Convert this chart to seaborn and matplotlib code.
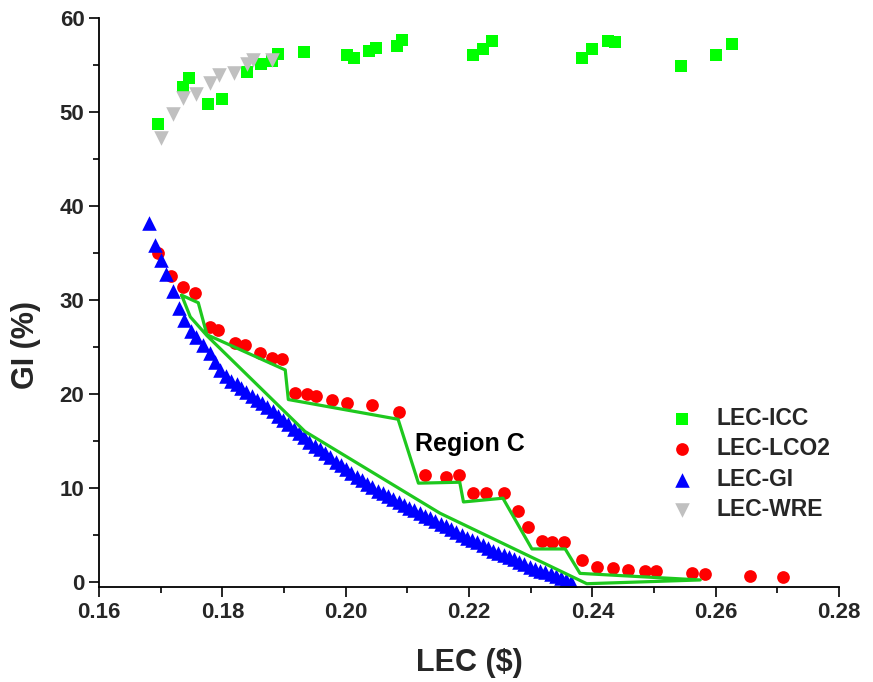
import matplotlib
matplotlib.use("Agg")
import matplotlib.pyplot as plt
import seaborn as sns
from matplotlib.ticker import MultipleLocator, FormatStrFormatter

# LEC-ICC
icc_lec = [0.1696, 0.1736, 0.1746, 0.1777, 0.1799, 0.1840, 0.1862, 0.1880, 0.1891,
           0.1933, 0.2002, 0.2014, 0.2038, 0.2049, 0.2083, 0.2092, 0.2206, 0.2222,
           0.2238, 0.2383, 0.2400, 0.2426, 0.2436, 0.2544, 0.2600, 0.2627]
icc_gi = [48.7, 52.7, 53.6, 50.9, 51.4, 54.3, 55.1, 55.4, 56.2,
          56.4, 56.1, 55.7, 56.5, 56.8, 57.0, 57.7, 56.1, 56.7,
          57.6, 55.7, 56.7, 57.6, 57.4, 54.9, 56.1, 57.2]

# LEC-LCO2
lco2_lec = [0.1695, 0.1716, 0.1737, 0.1756, 0.1780, 0.1793, 0.1821, 0.1837, 0.1861,
            0.1880, 0.1896, 0.1918, 0.1937, 0.1952, 0.1978, 0.2002, 0.2043, 0.2086,
            0.2129, 0.2163, 0.2183, 0.2206, 0.2228, 0.2256, 0.2280, 0.2295, 0.2318,
            0.2334, 0.2354, 0.2384, 0.2407, 0.2433, 0.2458, 0.2485, 0.2503, 0.2561,
            0.2583, 0.2656, 0.2709]
lco2_gi = [35.0, 32.5, 31.4, 30.7, 27.1, 26.8, 25.4, 25.2, 24.4,
           23.8, 23.7, 20.1, 20.0, 19.8, 19.4, 19.0, 18.8, 18.05,
           11.4, 11.2, 11.4, 9.4, 9.4, 9.5, 7.5, 5.8, 4.3,
           4.2, 4.2, 2.3, 1.6, 1.5, 1.3, 1.2, 1.1, 0.9,
           0.85, 0.64, 0.53]

# LEC-GI
gi_lec = [0.1681, 0.1690, 0.1700, 0.1708, 0.1720, 0.1730, 0.1738, 0.1749, 0.1758, 0.1768,
          0.1780, 0.1788, 0.1797, 0.1806, 0.1814, 0.1823, 0.1831, 0.1839, 0.1848, 0.1857,
          0.1865, 0.1873, 0.1882, 0.1891, 0.1899, 0.1907, 0.1916, 0.1925, 0.1933, 0.1941,
          0.1950, 0.1959, 0.1967, 0.1975, 0.1984, 0.1993, 0.2001, 0.2009, 0.2018, 0.2027,
          0.2035, 0.2043, 0.2052, 0.2061, 0.2069, 0.2077, 0.2086, 0.2095, 0.2103, 0.2111,
          0.2120, 0.2129, 0.2137, 0.2145, 0.2154, 0.2163, 0.2171, 0.2179, 0.2188, 0.2197,
          0.2205, 0.2213, 0.2222, 0.2231, 0.2239, 0.2247, 0.2256, 0.2265, 0.2273, 0.2281,
          0.2290, 0.2299, 0.2307, 0.2315, 0.2324, 0.2333, 0.2341, 0.2349, 0.2358, 0.2366]
gi_gi = [38.2, 35.8, 34.2, 32.8, 30.9, 29.1, 27.9, 26.7, 26.1, 25.2,
         24.3, 23.4, 22.5, 21.9, 21.4, 21.0, 20.6, 20.2, 19.8, 19.4,
         19.0, 18.6, 18.2, 17.7, 17.2, 16.8, 16.3, 15.8, 15.4, 14.9,
         14.5, 14.1, 13.7, 13.3, 12.8, 12.4, 12.0, 11.6, 11.2, 10.8,
         10.4, 10.1, 9.7, 9.4, 9.1, 8.8, 8.5, 8.2, 7.9, 7.6,
         7.3, 7.0, 6.8, 6.5, 6.2, 5.9, 5.6, 5.3, 5.0, 4.7,
         4.4, 4.2, 3.9, 3.6, 3.3, 3.1, 2.9, 2.6, 2.4, 2.1,
         1.9, 1.6, 1.4, 1.2, 1.0, 0.8, 0.6, 0.4, 0.2, 0.0]

# LEC-WRE
wre_lec = [0.1700, 0.1720, 0.1736, 0.1757, 0.1780, 0.1795, 0.1819, 0.1840, 0.1849, 0.1880]
wre_gi = [47.2, 49.8, 51.5, 51.9, 53.1, 53.9, 54.1, 55.1, 55.5, 55.5]

# Outline of Region C (upper staircase, then lower edge back to start)
region_lec = [0.1734, 0.1761, 0.1775, 0.1902, 0.1907, 0.2085, 0.2118, 0.2185, 0.2191,
              0.2255, 0.2302, 0.2356, 0.2380, 0.2575, 0.2391, 0.2153, 0.1934, 0.1775,
              0.1748, 0.1734]
region_gi = [30.5, 29.7, 26.3, 22.55, 19.4, 17.3, 10.5, 10.6, 8.5,
             8.9, 3.5, 3.5, 0.9, 0.2, -0.2, 7.3, 16.0, 26.2,
             28.2, 30.5]

sns.set_style("ticks")
plt.rcParams["font.family"] = ["Liberation Sans", "DejaVu Sans"]
plt.rcParams["font.weight"] = "bold"
plt.rcParams["axes.labelweight"] = "bold"

fig = plt.figure(figsize=(8.73, 6.82), dpi=100)
ax = fig.add_axes([99 / 873, 1 - 587 / 682, 740 / 873, 569 / 682])

sns.scatterplot(x=icc_lec, y=icc_gi, marker="s", s=63, color="#00ff00",
                linewidth=0, label="LEC-ICC", ax=ax, zorder=2)
sns.scatterplot(x=lco2_lec, y=lco2_gi, marker="o", s=84, color="#ff0000",
                linewidth=0, label="LEC-LCO2", ax=ax, zorder=2)
sns.scatterplot(x=gi_lec, y=gi_gi, marker="^", s=110, color="#0000ff",
                linewidth=0, label="LEC-GI", ax=ax, zorder=2)
sns.scatterplot(x=wre_lec, y=wre_gi, marker="v", s=110, color="#c0c0c0",
                linewidth=0, label="LEC-WRE", ax=ax, zorder=2)
handles, labels = ax.get_legend_handles_labels()

sns.lineplot(x=region_lec, y=region_gi, sort=False, estimator=None,
             color="#1ec81e", linewidth=2.3, ax=ax, zorder=3, legend=False)

ax.text(0.2112, 14.7, "Region C", fontsize=18, fontweight="bold",
        va="center", ha="left", color="black")

ax.set_xlim(0.16, 0.28)
ax.set_ylim(-0.55, 60)
ax.xaxis.set_major_locator(MultipleLocator(0.02))
ax.xaxis.set_minor_locator(MultipleLocator(0.01))
ax.yaxis.set_major_locator(MultipleLocator(10))
ax.yaxis.set_minor_locator(MultipleLocator(5))
ax.xaxis.set_major_formatter(FormatStrFormatter("%.2f"))

ax.tick_params(which="major", direction="out", length=7, width=1.2,
               labelsize=16, color="black")
ax.tick_params(which="minor", direction="out", length=4, width=1.2, color="black")
for lab in ax.get_xticklabels() + ax.get_yticklabels():
    lab.set_fontweight("bold")

sns.despine(ax=ax)
for side in ("left", "bottom"):
    ax.spines[side].set_linewidth(1.3)
    ax.spines[side].set_color("black")

ax.set_xlabel(r"LEC (\$)", fontsize=22, fontweight="bold", labelpad=18)
ax.set_ylabel("GI (%)", fontsize=22, fontweight="bold")
ax.yaxis.set_label_coords(-0.078, 0.425)

ax.legend(handles, labels, loc="upper left", bbox_to_anchor=(671 / 873, 1 - 407 / 682),
          bbox_transform=fig.transFigure, frameon=False, fontsize=16.5,
          handlelength=1.0, handletextpad=1.0, labelspacing=0.32, borderpad=0,
          borderaxespad=0)

fig.savefig("out.png", dpi=100)
